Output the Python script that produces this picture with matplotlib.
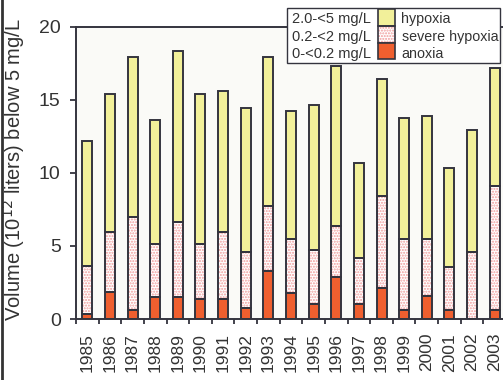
import matplotlib.pyplot as plt
import numpy as np
from matplotlib.patches import Rectangle
from matplotlib.lines import Line2D

plt.rcParams['font.family'] = ['Liberation Sans', 'DejaVu Sans']
plt.rcParams['hatch.linewidth'] = 1.0

# dane (10^12 litrow), wartosci skumulowane
years = ['1985', '1986', '1987', '1988', '1989', '1990', '1991', '1992', '1993', '1994',
         '1995', '1996', '1997', '1998', '1999', '2000', '2001', '2002', '2003']
total = [12.2, 15.4, 17.9, 13.6, 18.3, 15.4, 15.6, 14.4, 17.9, 14.25,
         14.6, 17.3, 10.65, 16.4, 13.75, 13.85, 10.3, 12.95, 17.15]
below2 = [3.65, 5.95, 7.0, 5.1, 6.6, 5.1, 5.95, 4.55, 7.75, 5.45,
          4.7, 6.35, 4.15, 8.4, 5.45, 5.45, 3.55, 4.55, 9.1]
anoxia = [0.35, 1.85, 0.62, 1.5, 1.5, 1.35, 1.35, 0.75, 3.25, 1.75,
          1.0, 2.9, 1.0, 2.15, 0.62, 1.6, 0.62, 0.0, 0.62]

ranges = ['2.0-<5 mg/L', '0.2-<2 mg/L', '0-<0.2 mg/L']
names = ['hypoxia', 'severe hypoxia', 'anoxia']

yellow = '#f2f09a'
orange = '#ef5f2f'
pink = '#f09a9a'
dark = '#34343e'
txt = '#333333'

W, H = 503, 380
fig = plt.figure(figsize=(W / 100, H / 100), dpi=100)
ax = fig.add_axes([76 / W, 1 - 319 / H, 430 / W, 292.5 / H])
ax.set_facecolor('#fafaf7')

x = np.arange(len(years))
hyp = np.array(total) - np.array(below2)
sev = np.array(below2) - np.array(anoxia)
w = 0.44

ax.bar(x, anoxia, w, color=orange, linewidth=0)
ax.bar(x, sev, w, bottom=anoxia, color='white', edgecolor=pink, hatch='......', linewidth=0)
ax.bar(x, hyp, w, bottom=below2, color=yellow, linewidth=0)
# obrys slupkow
for vals, bot in [(anoxia, 0), (sev, anoxia), (hyp, below2)]:
    ax.bar(x, vals, w, bottom=bot, fill=False, edgecolor=dark, linewidth=1.4)

ax.set_xlim(-0.5, len(years) - 0.5)
ax.set_ylim(0, 20)
ax.set_yticks([0, 5, 10, 15, 20])
ax.set_xticks(np.arange(len(years) + 1) - 0.5)
ax.set_xticklabels([])
ax.set_xticks(x, minor=True)
ax.set_xticklabels(years, minor=True, rotation=90, fontsize=12.5, color=txt)
ax.tick_params(axis='x', which='major', direction='out', length=3.3, width=1.3, color=dark)
ax.tick_params(axis='x', which='minor', length=0, pad=10)
ax.tick_params(axis='y', direction='out', length=4, width=1.3, color=dark, pad=7,
               labelsize=14, labelcolor=txt)
for s in ax.spines.values():
    s.set_color(dark)
    s.set_linewidth(1.4)

ax.set_ylabel('Volume (10$^{12}$ liters) below 5 mg/L', fontsize=14.5, color=txt, va='center')
ax.yaxis.set_label_coords(-0.144, 0.51)

# legenda recznie: zakres | kolor | nazwa (wspolrzedne w pikselach od gory)
def fx(px):
    return px / W

def fy(py):
    return 1 - py / H

fig.add_artist(Rectangle((fx(287), fy(63)), fx(500) - fx(287), fy(8) - fy(63),
                         transform=fig.transFigure, facecolor='white', edgecolor=dark,
                         linewidth=1.0, zorder=10))
sw_top = [9.3, 26.0, 42.7]
sw_h = 16.7
baselines = [22.6, 40.5, 58.2]
for i in range(3):
    y0 = fy(sw_top[i] + sw_h)
    hh = fy(sw_top[i]) - y0
    if i == 1:
        fig.add_artist(Rectangle((fx(378), y0), fx(395) - fx(378), hh, transform=fig.transFigure,
                                 facecolor='white', edgecolor=pink, hatch='......', linewidth=0, zorder=11))
        fig.add_artist(Rectangle((fx(378), y0), fx(395) - fx(378), hh, transform=fig.transFigure,
                                 fill=False, edgecolor=dark, linewidth=1.2, zorder=12))
    else:
        fig.add_artist(Rectangle((fx(378), y0), fx(395) - fx(378), hh, transform=fig.transFigure,
                                 facecolor=[yellow, None, orange][i], edgecolor=dark, linewidth=1.2, zorder=12))
    fig.text(fx(291.5), fy(baselines[i]), ranges[i], fontsize=10.5, color=txt, va='baseline', zorder=13)
    fig.text(fx(401.5), fy(baselines[i]), names[i], fontsize=10.3, color=txt, va='baseline', zorder=13)

# ramka z lewej strony rysunku
fig.add_artist(Line2D([2 / W, 2 / W], [0, 1], transform=fig.transFigure, color=txt, linewidth=2))

fig.savefig('out.png', dpi=100)
